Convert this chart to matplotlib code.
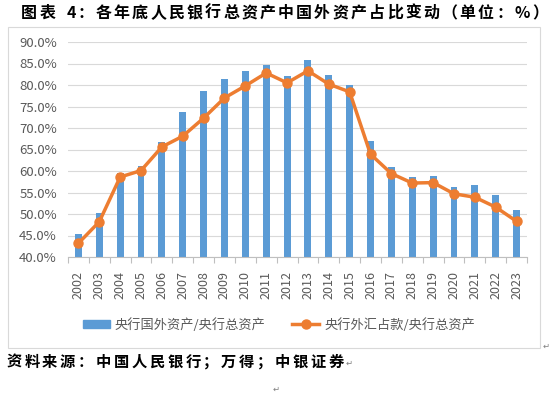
import matplotlib
matplotlib.use('Agg')
import matplotlib.pyplot as plt
from matplotlib.patches import Rectangle
from matplotlib.lines import Line2D

plt.rcParams['font.family'] = ['Noto Sans CJK SC', 'DejaVu Sans']

# Data (%)
years = ['2002', '2003', '2004', '2005', '2006', '2007', '2008', '2009', '2010', '2011', '2012',
         '2013', '2014', '2015', '2016', '2017', '2018', '2019', '2020', '2021', '2022', '2023']
foreign_assets = [45.4, 50.3, 59.6, 61.2, 66.7, 73.8, 78.5, 81.5, 83.2, 84.7, 82.0,
                  85.8, 82.4, 80.0, 66.9, 61.0, 58.5, 58.9, 56.3, 56.8, 54.4, 51.0]
fx_reserves = [43.2, 48.2, 58.6, 60.1, 65.6, 68.1, 72.3, 77.0, 79.8, 82.8, 80.5,
               83.3, 80.2, 78.4, 63.9, 59.4, 57.2, 57.3, 54.7, 53.9, 51.6, 48.3]
yticks = [40, 45, 50, 55, 60, 65, 70, 75, 80, 85, 90]

title = '图表 4：各年底人民银行总资产中国外资产占比变动（单位：%）'
source = '资料来源：中国人民银行；万得；中银证券'

blue = '#5b9bd5'
orange = '#ed7d31'
grey = '#595959'

fig = plt.figure(figsize=(5.5, 3.93), dpi=100)
W, H = 550, 393


def spaced_text(s, x0, y, full, half, size):
    # Word-style spaced bold text, one character at a time
    x = x0
    for ch in s:
        step = half if ord(ch) < 128 and ch != '%' else full
        fig.text((x + step / 2) / W, 1 - y / H, ch, ha='center', va='center',
                 fontsize=size, fontweight='bold')
        x += step


# chart frame
fig.patches.append(Rectangle((8 / W, 1 - 348 / H), (540 - 8) / W, (348 - 27) / H,
                             transform=fig.transFigure, fill=False,
                             edgecolor='#d9d9d9', linewidth=0.8))

ax = fig.add_axes([68 / W, 1 - 257 / H, (527 - 68) / W, (257 - 42) / H])
x = list(range(len(years)))
ax.bar(x, foreign_assets, width=0.33, color=blue, zorder=2)
ax.plot(x, fx_reserves, color=orange, linewidth=2.5, marker='o', markersize=6.5, zorder=3)

ax.set_ylim(40, 90)
ax.set_xlim(-0.5, len(years) - 0.5)
ax.set_yticks(yticks)
ax.set_yticklabels(['%.1f%%' % v for v in yticks])
ax.grid(axis='y', color='#d9d9d9', linewidth=0.8, zorder=0)
ax.set_xticks(x)
ax.set_xticklabels(years, rotation=90)
ax.set_xticks([i - 0.5 for i in range(len(years) + 1)], minor=True)
ax.tick_params(axis='x', which='major', length=0, pad=10, labelsize=9, labelcolor=grey)
ax.tick_params(axis='x', which='minor', length=4, color='#bfbfbf', width=0.8)
ax.tick_params(axis='y', length=0, pad=8, labelsize=9.5, labelcolor=grey)
for s in ['top', 'right', 'left']:
    ax.spines[s].set_visible(False)
ax.spines['bottom'].set_color('#bfbfbf')
ax.spines['bottom'].set_linewidth(0.8)

handles = [Rectangle((0, 0), 1, 1, color=blue),
           Line2D([0], [0], color=orange, linewidth=2.5, marker='o', markersize=6.5)]
fig.legend(handles, ['央行国外资产/央行总资产', '央行外汇占款/央行总资产'],
           loc='center', bbox_to_anchor=(279 / W, 1 - 325 / H), ncol=2, frameon=False,
           fontsize=9.5, labelcolor=grey, handlelength=2.05, columnspacing=2.0,
           handletextpad=0.4, handleheight=0.6)

spaced_text(title, 20, 13, 18.2, 10, 11.5)
spaced_text(source, 5, 362, 17.9, 9, 11)

# paragraph marks from the source document
for px, py in [(546, 346), (349, 363), (276, 389)]:
    fig.text(px / W, 1 - py / H, '\u21b5', ha='center', va='center', fontsize=6,
             color='#7f7f7f', family=['DejaVu Sans'])

fig.savefig('out.png', dpi=100)
